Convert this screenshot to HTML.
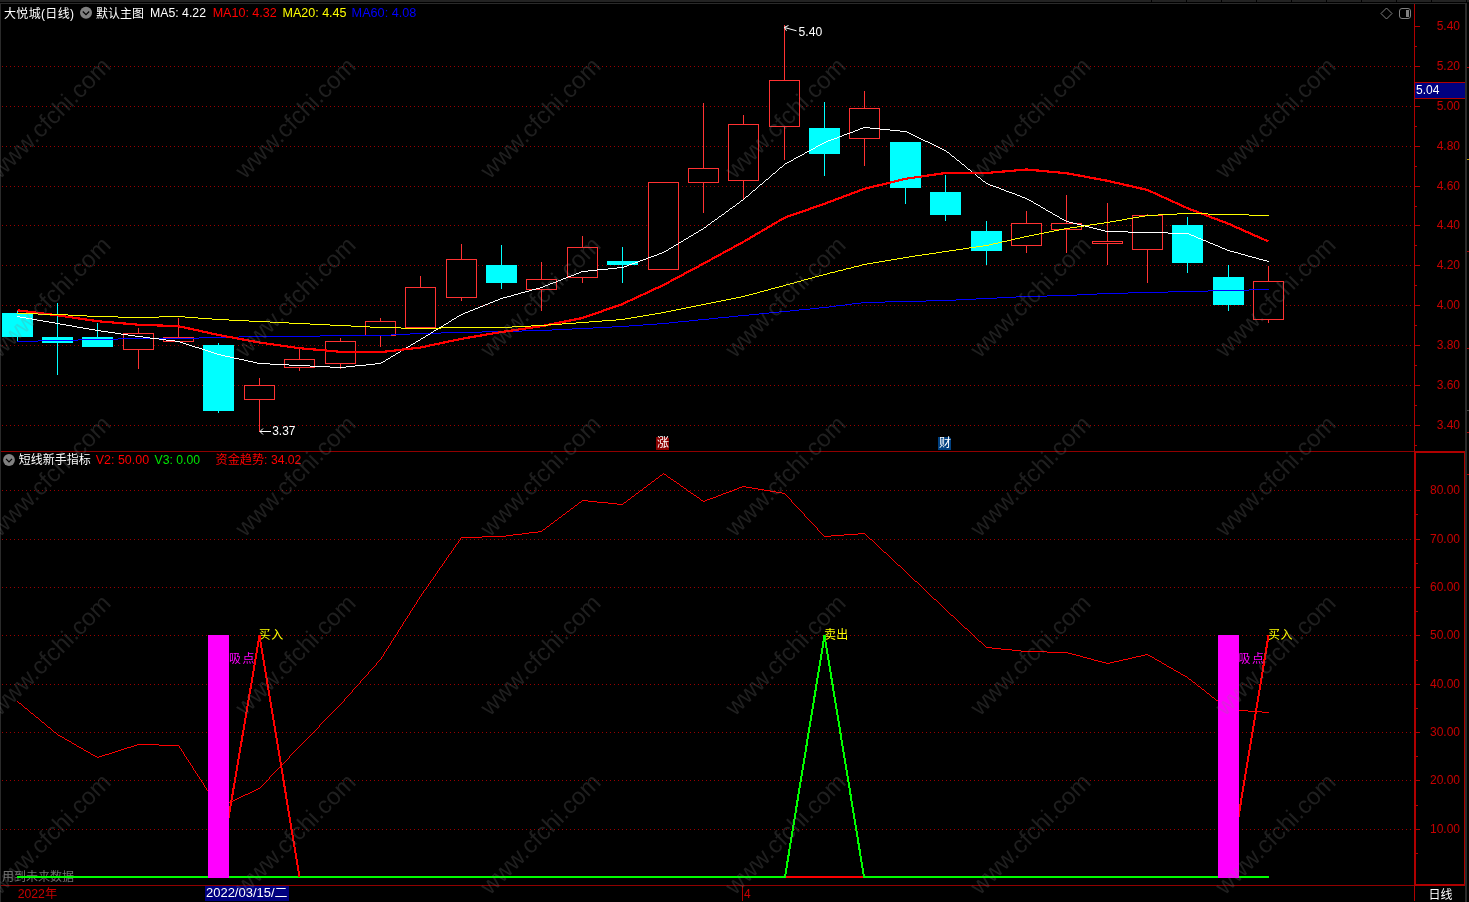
<!DOCTYPE html>
<html lang="zh"><head><meta charset="utf-8"><title>大悦城(日线)</title>
<style>html,body{margin:0;padding:0;background:#000;overflow:hidden}svg{display:block}text{font-family:"Liberation Sans","Noto Sans CJK SC",sans-serif;font-size:12px}.wm text{font-size:24px;fill:#808080;fill-opacity:.24}</style></head><body>
<svg width="1469" height="902" viewBox="0 0 1469 902">
<rect width="1469" height="902" fill="#000"/>
<g shape-rendering="crispEdges">
<rect x="0" y="0" width="1466" height="2" fill="#222"/>
<rect x="1151" y="0" width="1" height="2" fill="#000"/>
<rect x="1186" y="0" width="1" height="2" fill="#000"/>
<rect x="1221" y="0" width="1" height="2" fill="#000"/>
<rect x="1256" y="0" width="1" height="2" fill="#000"/>
<rect x="1291" y="0" width="1" height="2" fill="#000"/>
<rect x="1326" y="0" width="1" height="2" fill="#000"/>
<rect x="1361" y="0" width="1" height="2" fill="#000"/>
<rect x="1396" y="0" width="1" height="2" fill="#000"/>
<rect x="1431" y="0" width="1" height="2" fill="#000"/>
<rect x="0" y="3" width="1467" height="1" fill="#2a2a2a"/>
<rect x="0" y="3" width="1" height="899" fill="#2a2a2a"/>
<rect x="1465" y="3" width="2" height="899" fill="#2a2a2a"/>
<rect x="1467" y="0" width="2" height="2" fill="#222"/>
<rect x="1467" y="67" width="2" height="1" fill="#b00000"/>
<rect x="1467" y="251" width="2" height="1" fill="#b00000"/>
<rect x="1467" y="348" width="2" height="1" fill="#b00000"/>
<rect x="1467" y="432" width="2" height="1" fill="#b00000"/>
<rect x="1467" y="474" width="2" height="1" fill="#b00000"/>
<rect x="1467" y="159" width="2" height="1" fill="#c0a000"/>
<rect x="1467" y="410" width="2" height="1" fill="#444"/>
</g>
<defs><pattern id="dot" x="2" y="0" width="4" height="1" patternUnits="userSpaceOnUse"><rect x="0" y="0" width="1" height="1" fill="#9a0000"/></pattern></defs>
<g shape-rendering="crispEdges">
<rect x="2" y="66" width="1409" height="1" fill="url(#dot)"/>
<rect x="2" y="106" width="1409" height="1" fill="url(#dot)"/>
<rect x="2" y="146" width="1409" height="1" fill="url(#dot)"/>
<rect x="2" y="186" width="1409" height="1" fill="url(#dot)"/>
<rect x="2" y="225" width="1409" height="1" fill="url(#dot)"/>
<rect x="2" y="265" width="1409" height="1" fill="url(#dot)"/>
<rect x="2" y="305" width="1409" height="1" fill="url(#dot)"/>
<rect x="2" y="345" width="1409" height="1" fill="url(#dot)"/>
<rect x="2" y="385" width="1409" height="1" fill="url(#dot)"/>
<rect x="2" y="425" width="1409" height="1" fill="url(#dot)"/>
<rect x="2" y="490" width="1409" height="1" fill="url(#dot)"/>
<rect x="2" y="539" width="1409" height="1" fill="url(#dot)"/>
<rect x="2" y="587" width="1409" height="1" fill="url(#dot)"/>
<rect x="2" y="635" width="1409" height="1" fill="url(#dot)"/>
<rect x="2" y="684" width="1409" height="1" fill="url(#dot)"/>
<rect x="2" y="732" width="1409" height="1" fill="url(#dot)"/>
<rect x="2" y="780" width="1409" height="1" fill="url(#dot)"/>
<rect x="2" y="829" width="1409" height="1" fill="url(#dot)"/>
</g>
<g shape-rendering="crispEdges" fill="#b00000">
<rect x="1414" y="4" width="1" height="447"/>
<rect x="1" y="451" width="1464" height="1" fill="#900000"/>
<rect x="1414" y="451" width="51" height="2"/>
<rect x="1414" y="451" width="2" height="435"/>
<rect x="1464" y="451" width="1" height="435"/>
<rect x="1" y="885" width="1464" height="1" fill="#900000"/>
<rect x="1414" y="884" width="51" height="2"/>
<rect x="1414" y="886" width="1" height="15"/>
<rect x="1415" y="26" width="5" height="1"/>
<rect x="1415" y="66" width="5" height="1"/>
<rect x="1415" y="106" width="5" height="1"/>
<rect x="1415" y="146" width="5" height="1"/>
<rect x="1415" y="186" width="5" height="1"/>
<rect x="1415" y="225" width="5" height="1"/>
<rect x="1415" y="265" width="5" height="1"/>
<rect x="1415" y="305" width="5" height="1"/>
<rect x="1415" y="345" width="5" height="1"/>
<rect x="1415" y="385" width="5" height="1"/>
<rect x="1415" y="425" width="5" height="1"/>
<rect x="1415" y="46" width="2" height="1"/>
<rect x="1415" y="86" width="2" height="1"/>
<rect x="1415" y="126" width="2" height="1"/>
<rect x="1415" y="166" width="2" height="1"/>
<rect x="1415" y="206" width="2" height="1"/>
<rect x="1415" y="245" width="2" height="1"/>
<rect x="1415" y="285" width="2" height="1"/>
<rect x="1415" y="325" width="2" height="1"/>
<rect x="1415" y="365" width="2" height="1"/>
<rect x="1415" y="405" width="2" height="1"/>
<rect x="1415" y="445" width="2" height="1"/>
<rect x="1416" y="490" width="4" height="1"/>
<rect x="1416" y="539" width="4" height="1"/>
<rect x="1416" y="587" width="4" height="1"/>
<rect x="1416" y="635" width="4" height="1"/>
<rect x="1416" y="684" width="4" height="1"/>
<rect x="1416" y="732" width="4" height="1"/>
<rect x="1416" y="780" width="4" height="1"/>
<rect x="1416" y="829" width="4" height="1"/>
<rect x="1416" y="514" width="2" height="1"/>
<rect x="1416" y="563" width="2" height="1"/>
<rect x="1416" y="611" width="2" height="1"/>
<rect x="1416" y="660" width="2" height="1"/>
<rect x="1416" y="708" width="2" height="1"/>
<rect x="1416" y="756" width="2" height="1"/>
<rect x="1416" y="805" width="2" height="1"/>
<rect x="1416" y="853" width="2" height="1"/>
</g>
<g fill="#c80000" text-anchor="end">
<text x="1460" y="30">5.40</text>
<text x="1460" y="70">5.20</text>
<text x="1460" y="150">4.80</text>
<text x="1460" y="190">4.60</text>
<text x="1460" y="229">4.40</text>
<text x="1460" y="269">4.20</text>
<text x="1460" y="309">4.00</text>
<text x="1460" y="349">3.80</text>
<text x="1460" y="389">3.60</text>
<text x="1460" y="429">3.40</text>
<text x="1460" y="494">80.00</text>
<text x="1460" y="543">70.00</text>
<text x="1460" y="591">60.00</text>
<text x="1460" y="639">50.00</text>
<text x="1460" y="688">40.00</text>
<text x="1460" y="736">30.00</text>
<text x="1460" y="784">20.00</text>
<text x="1460" y="833">10.00</text>
</g>
<text x="1460" y="110" fill="#c80000" text-anchor="end">5.00</text>
<g shape-rendering="crispEdges"><rect x="1415" y="82" width="50" height="17" fill="#b00000"/><rect x="1415" y="83" width="50" height="15" fill="#000080"/></g>
<text x="1416" y="94" fill="#fff">5.04</text>
<g shape-rendering="crispEdges">
<rect x="17" y="310" width="1" height="32" fill="#00ffff"/>
<rect x="2" y="313" width="31" height="24" fill="#00ffff"/>
<rect x="57" y="303" width="1" height="72" fill="#00ffff"/>
<rect x="42" y="337" width="31" height="6" fill="#00ffff"/>
<rect x="97" y="323" width="1" height="24" fill="#00ffff"/>
<rect x="82" y="337" width="31" height="10" fill="#00ffff"/>
<rect x="138" y="328" width="1" height="5" fill="#ff3232"/>
<rect x="138" y="350" width="1" height="19" fill="#ff3232"/>
<rect x="123.5" y="333.5" width="30" height="16" fill="#000" stroke="#ff3232" stroke-width="1"/>
<rect x="178" y="318" width="1" height="19" fill="#ff3232"/>
<rect x="163.5" y="337.5" width="30" height="4" fill="#000" stroke="#ff3232" stroke-width="1"/>
<rect x="218" y="343" width="1" height="70" fill="#00ffff"/>
<rect x="203" y="345" width="31" height="66" fill="#00ffff"/>
<rect x="259" y="378" width="1" height="7" fill="#ff3232"/>
<rect x="259" y="400" width="1" height="32" fill="#ff3232"/>
<rect x="244.5" y="385.5" width="30" height="14" fill="#000" stroke="#ff3232" stroke-width="1"/>
<rect x="299" y="349" width="1" height="10" fill="#ff3232"/>
<rect x="299" y="368" width="1" height="3" fill="#ff3232"/>
<rect x="284.5" y="359.5" width="30" height="8" fill="#000" stroke="#ff3232" stroke-width="1"/>
<rect x="340" y="338" width="1" height="3" fill="#ff3232"/>
<rect x="340" y="364" width="1" height="5" fill="#ff3232"/>
<rect x="325.5" y="341.5" width="30" height="22" fill="#000" stroke="#ff3232" stroke-width="1"/>
<rect x="380" y="318" width="1" height="3" fill="#ff3232"/>
<rect x="380" y="336" width="1" height="11" fill="#ff3232"/>
<rect x="365.5" y="321.5" width="30" height="14" fill="#000" stroke="#ff3232" stroke-width="1"/>
<rect x="420" y="276" width="1" height="11" fill="#ff3232"/>
<rect x="405.5" y="287.5" width="30" height="40" fill="#000" stroke="#ff3232" stroke-width="1"/>
<rect x="461" y="244" width="1" height="15" fill="#ff3232"/>
<rect x="461" y="298" width="1" height="3" fill="#ff3232"/>
<rect x="446.5" y="259.5" width="30" height="38" fill="#000" stroke="#ff3232" stroke-width="1"/>
<rect x="501" y="245" width="1" height="44" fill="#00ffff"/>
<rect x="486" y="265" width="31" height="18" fill="#00ffff"/>
<rect x="541" y="262" width="1" height="17" fill="#ff3232"/>
<rect x="541" y="290" width="1" height="21" fill="#ff3232"/>
<rect x="526.5" y="279.5" width="30" height="10" fill="#000" stroke="#ff3232" stroke-width="1"/>
<rect x="582" y="236" width="1" height="11" fill="#ff3232"/>
<rect x="582" y="278" width="1" height="5" fill="#ff3232"/>
<rect x="567.5" y="247.5" width="30" height="30" fill="#000" stroke="#ff3232" stroke-width="1"/>
<rect x="622" y="247" width="1" height="36" fill="#00ffff"/>
<rect x="607" y="261" width="31" height="4" fill="#00ffff"/>
<rect x="648.5" y="182.5" width="30" height="87" fill="#000" stroke="#ff3232" stroke-width="1"/>
<rect x="703" y="103" width="1" height="65" fill="#ff3232"/>
<rect x="703" y="183" width="1" height="30" fill="#ff3232"/>
<rect x="688.5" y="168.5" width="30" height="14" fill="#000" stroke="#ff3232" stroke-width="1"/>
<rect x="743" y="115" width="1" height="9" fill="#ff3232"/>
<rect x="743" y="181" width="1" height="19" fill="#ff3232"/>
<rect x="728.5" y="124.5" width="30" height="56" fill="#000" stroke="#ff3232" stroke-width="1"/>
<rect x="784" y="25" width="1" height="55" fill="#ff3232"/>
<rect x="784" y="127" width="1" height="33" fill="#ff3232"/>
<rect x="769.5" y="80.5" width="30" height="46" fill="#000" stroke="#ff3232" stroke-width="1"/>
<rect x="824" y="102" width="1" height="74" fill="#00ffff"/>
<rect x="809" y="128" width="31" height="26" fill="#00ffff"/>
<rect x="864" y="91" width="1" height="17" fill="#ff3232"/>
<rect x="864" y="139" width="1" height="27" fill="#ff3232"/>
<rect x="849.5" y="108.5" width="30" height="30" fill="#000" stroke="#ff3232" stroke-width="1"/>
<rect x="905" y="142" width="1" height="62" fill="#00ffff"/>
<rect x="890" y="142" width="31" height="46" fill="#00ffff"/>
<rect x="945" y="175" width="1" height="46" fill="#00ffff"/>
<rect x="930" y="192" width="31" height="23" fill="#00ffff"/>
<rect x="986" y="221" width="1" height="44" fill="#00ffff"/>
<rect x="971" y="231" width="31" height="20" fill="#00ffff"/>
<rect x="1026" y="211" width="1" height="12" fill="#ff3232"/>
<rect x="1026" y="246" width="1" height="7" fill="#ff3232"/>
<rect x="1011.5" y="223.5" width="30" height="22" fill="#000" stroke="#ff3232" stroke-width="1"/>
<rect x="1066" y="195" width="1" height="28" fill="#ff3232"/>
<rect x="1066" y="230" width="1" height="23" fill="#ff3232"/>
<rect x="1051.5" y="223.5" width="30" height="6" fill="#000" stroke="#ff3232" stroke-width="1"/>
<rect x="1107" y="203" width="1" height="38" fill="#ff3232"/>
<rect x="1107" y="244" width="1" height="21" fill="#ff3232"/>
<rect x="1092.5" y="241.5" width="30" height="2" fill="#000" stroke="#ff3232" stroke-width="1"/>
<rect x="1147" y="214" width="1" height="1" fill="#ff3232"/>
<rect x="1147" y="250" width="1" height="33" fill="#ff3232"/>
<rect x="1132.5" y="215.5" width="30" height="34" fill="#000" stroke="#ff3232" stroke-width="1"/>
<rect x="1187" y="217" width="1" height="56" fill="#00ffff"/>
<rect x="1172" y="225" width="31" height="38" fill="#00ffff"/>
<rect x="1228" y="265" width="1" height="46" fill="#00ffff"/>
<rect x="1213" y="277" width="31" height="28" fill="#00ffff"/>
<rect x="1268" y="266" width="1" height="15" fill="#ff3232"/>
<rect x="1268" y="320" width="1" height="3" fill="#ff3232"/>
<rect x="1253.5" y="281.5" width="30" height="38" fill="#000" stroke="#ff3232" stroke-width="1"/>
</g>
<path d="M17 341.5h21M38 340.5h19M57 340.5h21M78 339.5h19M97 339.5h21M118 338.5h20M138 338.5h40M178 338.5h21M199 337.5h19M218 337.5h21M239 336.5h20M259 336.5h40M299 336.5h21M320 335.5h20M340 335.5h40M380 335.5h11M391 334.5h19M410 333.5h10M420 333.5h21M441 332.5h20M461 332.5h21M482 331.5h19M501 331.5h21M522 330.5h19M541 330.5h11M552 329.5h20M572 328.5h10M582 328.5h11M593 327.5h19M612 326.5h10M622 326.5h7M629 325.5h14M643 324.5h14M657 323.5h6M663 323.5h6M669 322.5h9M678 321.5h11M689 320.5h9M698 319.5h5M703 319.5h6M709 318.5h9M718 317.5h11M729 316.5h9M738 315.5h5M743 315.5h6M749 314.5h10M759 313.5h10M769 312.5h10M779 311.5h5M784 311.5h6M790 310.5h9M799 309.5h11M810 308.5h9M819 307.5h5M824 307.5h5M829 306.5h7M836 305.5h9M845 304.5h7M852 303.5h9M861 302.5h3M864 302.5h21M885 301.5h20M905 301.5h21M926 300.5h19M945 300.5h11M956 299.5h20M976 298.5h10M986 298.5h11M997 297.5h19M1016 296.5h10M1026 296.5h21M1047 295.5h19M1066 295.5h11M1077 294.5h20M1097 293.5h10M1107 293.5h21M1128 292.5h19M1147 292.5h21M1168 291.5h19M1187 291.5h21M1208 290.5h20M1228 290.5h21M1249 289.5h19M1268 289.5h1" fill="none" stroke="#0000ff" stroke-width="1" shape-rendering="crispEdges"/>
<path d="M17 316.5h3M20 317.5h6M26 318.5h6M32 319.5h5M37 320.5h6M43 321.5h6M49 322.5h6M55 323.5h2M57 323.5h3M60 324.5h6M66 325.5h6M72 326.5h5M77 327.5h6M83 328.5h6M89 329.5h6M95 330.5h2M97 330.5h4M101 331.5h7M108 332.5h7M115 333.5h6M121 334.5h7M128 335.5h7M135 336.5h3M138 336.5h5M143 337.5h7M150 338.5h9M159 339.5h7M166 340.5h9M175 341.5h3M178 341.5h2M180 342.5h3M183 343.5h3M186 344.5h3M189 345.5h3M192 346.5h3M195 347.5h4M199 348.5h3M202 349.5h3M205 350.5h3M208 351.5h3M211 352.5h3M214 353.5h3M217 354.5h1M218 354.5h3M221 355.5h4M225 356.5h5M230 357.5h4M234 358.5h5M239 359.5h5M244 360.5h4M248 361.5h5M253 362.5h4M257 363.5h2M259 363.5h11M270 364.5h19M289 365.5h10M299 365.5h11M310 366.5h20M330 367.5h10M340 367.5h6M346 366.5h9M355 365.5h11M366 364.5h9M375 363.5h5M380 363.5h1M381 362.5h2M383 361.5h2M385 360.5h1M386 359.5h2M388 358.5h2M390 357.5h1M391 356.5h2M393 355.5h2M395 354.5h1M396 353.5h2M398 352.5h2M400 351.5h1M401 350.5h2M403 349.5h2M405 348.5h1M406 347.5h2M408 346.5h2M410 345.5h1M411 344.5h2M413 343.5h2M415 342.5h1M416 341.5h2M418 340.5h2M420 339.5h1M421 338.5h2M423 337.5h2M425 336.5h1M426 335.5h2M428 334.5h2M430 333.5h1M431 332.5h2M433 331.5h1M434 330.5h2M436 329.5h2M438 328.5h1M439 327.5h2M441 326.5h2M443 325.5h1M444 324.5h2M446 323.5h2M448 322.5h1M449 321.5h2M451 320.5h1M452 319.5h2M454 318.5h2M456 317.5h1M457 316.5h2M459 315.5h2M461 314.5h2M463 313.5h2M465 312.5h3M468 311.5h2M470 310.5h3M473 309.5h2M475 308.5h3M478 307.5h2M480 306.5h3M483 305.5h2M485 304.5h3M488 303.5h2M490 302.5h3M493 301.5h2M495 300.5h3M498 299.5h2M500 298.5h1M501 298.5h2M503 297.5h4M507 296.5h4M511 295.5h3M514 294.5h4M518 293.5h3M521 292.5h4M525 291.5h4M529 290.5h3M532 289.5h4M536 288.5h4M540 287.5h1M541 287.5h2M543 286.5h2M545 285.5h3M548 284.5h2M550 283.5h3M553 282.5h3M556 281.5h2M558 280.5h3M561 279.5h2M563 278.5h3M566 277.5h2M568 276.5h3M571 275.5h3M574 274.5h2M576 273.5h3M579 272.5h2M581 271.5h1M582 271.5h6M588 270.5h9M597 269.5h11M608 268.5h9M617 267.5h5M622 267.5h2M624 266.5h3M627 265.5h2M629 264.5h3M632 263.5h3M635 262.5h3M638 261.5h2M640 260.5h3M643 259.5h3M646 258.5h2M648 257.5h3M651 256.5h3M654 255.5h3M657 254.5h2M659 253.5h3M662 252.5h1M663 252.5h1M664 251.5h2M666 250.5h2M668 249.5h1M669 248.5h2M671 247.5h2M673 246.5h1M674 245.5h2M676 244.5h2M678 243.5h1M679 242.5h2M681 241.5h2M683 240.5h1M684 239.5h2M686 238.5h2M688 237.5h1M689 236.5h2M691 235.5h2M693 234.5h1M694 233.5h2M696 232.5h2M698 231.5h1M699 230.5h2M701 229.5h2M703 228.5h1M704 227.5h2M706 226.5h1M707 225.5h1M708 224.5h2M710 223.5h1M711 222.5h1M712 221.5h2M714 220.5h1M715 219.5h2M717 218.5h1M718 217.5h1M719 216.5h2M721 215.5h1M722 214.5h2M724 213.5h1M725 212.5h1M726 211.5h2M728 210.5h1M729 209.5h1M730 208.5h2M732 207.5h1M733 206.5h2M735 205.5h1M736 204.5h1M737 203.5h2M739 202.5h1M740 201.5h1M741 200.5h2M743 199.5h1M744 198.5h1M745 197.5h1M746 196.5h2M748 195.5h1M749 194.5h1M750 193.5h1M751 192.5h1M752 191.5h1M753 190.5h2M755 189.5h1M756 188.5h1M757 187.5h1M758 186.5h1M759 185.5h1M760 184.5h2M762 183.5h1M763 182.5h1M764 181.5h1M765 180.5h1M766 179.5h2M768 178.5h1M769 177.5h1M770 176.5h1M771 175.5h1M772 174.5h1M773 173.5h2M775 172.5h1M776 171.5h1M777 170.5h1M778 169.5h1M779 168.5h1M780 167.5h2M782 166.5h1M783 165.5h1M784 164.5h1M785 163.5h2M787 162.5h2M789 161.5h2M791 160.5h2M793 159.5h1M794 158.5h2M796 157.5h2M798 156.5h2M800 155.5h2M802 154.5h2M804 153.5h1M805 152.5h2M807 151.5h2M809 150.5h2M811 149.5h2M813 148.5h2M815 147.5h1M816 146.5h2M818 145.5h2M820 144.5h2M822 143.5h2M824 142.5h2M826 141.5h2M828 140.5h3M831 139.5h3M834 138.5h3M837 137.5h2M839 136.5h3M842 135.5h2M844 134.5h3M847 133.5h3M850 132.5h3M853 131.5h2M855 130.5h3M858 129.5h2M860 128.5h3M863 127.5h1M864 127.5h6M870 128.5h10M880 129.5h10M890 130.5h10M900 131.5h5M905 131.5h2M907 132.5h2M909 133.5h2M911 134.5h2M913 135.5h2M915 136.5h2M917 137.5h2M919 138.5h2M921 139.5h2M923 140.5h2M925 141.5h3M928 142.5h2M930 143.5h2M932 144.5h2M934 145.5h2M936 146.5h2M938 147.5h2M940 148.5h2M942 149.5h2M944 150.5h1M945 150.5h1M946 151.5h1M947 152.5h2M949 153.5h1M950 154.5h1M951 155.5h1M952 156.5h2M954 157.5h1M955 158.5h1M956 159.5h1M957 160.5h2M959 161.5h1M960 162.5h1M961 163.5h1M962 164.5h2M964 165.5h1M965 166.5h1M966 167.5h1M967 168.5h1M968 169.5h2M970 170.5h1M971 171.5h1M972 172.5h1M973 173.5h2M975 174.5h1M976 175.5h1M977 176.5h1M978 177.5h2M980 178.5h1M981 179.5h1M982 180.5h1M983 181.5h2M985 182.5h1M986 183.5h2M988 184.5h2M990 185.5h3M993 186.5h3M996 187.5h3M999 188.5h2M1001 189.5h3M1004 190.5h2M1006 191.5h3M1009 192.5h3M1012 193.5h3M1015 194.5h2M1017 195.5h3M1020 196.5h2M1022 197.5h3M1025 198.5h1M1026 198.5h1M1027 199.5h2M1029 200.5h2M1031 201.5h2M1033 202.5h1M1034 203.5h2M1036 204.5h2M1038 205.5h2M1040 206.5h1M1041 207.5h2M1043 208.5h2M1045 209.5h1M1046 210.5h2M1048 211.5h2M1050 212.5h2M1052 213.5h1M1053 214.5h2M1055 215.5h2M1057 216.5h2M1059 217.5h1M1060 218.5h2M1062 219.5h2M1064 220.5h2M1066 221.5h3M1069 222.5h4M1073 223.5h4M1077 224.5h4M1081 225.5h4M1085 226.5h4M1089 227.5h4M1093 228.5h4M1097 229.5h4M1101 230.5h4M1105 231.5h2M1107 231.5h21M1128 232.5h19M1147 232.5h21M1168 233.5h19M1187 233.5h2M1189 234.5h2M1191 235.5h3M1194 236.5h2M1196 237.5h2M1198 238.5h3M1201 239.5h2M1203 240.5h3M1206 241.5h2M1208 242.5h2M1210 243.5h3M1213 244.5h2M1215 245.5h3M1218 246.5h2M1220 247.5h2M1222 248.5h3M1225 249.5h2M1227 250.5h1M1228 250.5h2M1230 251.5h4M1234 252.5h4M1238 253.5h3M1241 254.5h4M1245 255.5h3M1248 256.5h4M1252 257.5h4M1256 258.5h3M1259 259.5h4M1263 260.5h4M1267 261.5h1M1268 261.5h1" fill="none" stroke="#ffffff" stroke-width="1" shape-rendering="crispEdges"/>
<polyline points="17.5,310.3 57.5,315.3 97.5,321.2 138.5,324.7 178.5,326.2 218.5,335.0 259.5,342.5 299.5,348.2 340.5,351.8 380.5,352.2 420.5,347.5 461.5,338.8 501.5,332.0 541.5,326.2 582.5,318.0 622.5,304.0 663.5,285.0 703.5,263.6 743.5,241.8 784.5,217.7 824.5,203.8 864.5,188.8 905.5,178.8 945.5,173.0 986.5,173.0 1026.5,169.5 1066.5,173.2 1107.5,180.8 1147.5,190.0 1187.5,208.2 1228.5,223.8 1268.5,241.5" fill="none" stroke="#ff0000" stroke-width="2.2" shape-rendering="crispEdges" stroke-linejoin="round"/>
<path d="M17 313.5h21M38 314.5h19M57 314.5h11M68 315.5h19M87 316.5h10M97 316.5h21M118 317.5h20M138 317.5h21M159 316.5h19M178 316.5h7M185 317.5h13M198 318.5h14M212 319.5h6M218 319.5h11M229 320.5h20M249 321.5h10M259 321.5h11M270 322.5h19M289 323.5h10M299 323.5h11M310 324.5h20M330 325.5h10M340 325.5h11M351 326.5h19M370 327.5h10M380 327.5h21M401 328.5h19M420 328.5h21M441 327.5h20M461 327.5h40M501 327.5h11M512 326.5h19M531 325.5h10M541 325.5h7M548 324.5h14M562 323.5h14M576 322.5h6M582 322.5h7M589 321.5h13M602 320.5h14M616 319.5h6M622 319.5h3M625 318.5h6M631 317.5h6M637 316.5h6M643 315.5h6M649 314.5h6M655 313.5h6M661 312.5h2M663 312.5h3M666 311.5h5M671 310.5h5M676 309.5h5M681 308.5h5M686 307.5h5M691 306.5h5M696 305.5h5M701 304.5h2M703 304.5h3M706 303.5h5M711 302.5h5M716 301.5h5M721 300.5h5M726 299.5h5M731 298.5h5M736 297.5h5M741 296.5h2M743 296.5h2M745 295.5h4M749 294.5h4M753 293.5h4M757 292.5h3M760 291.5h4M764 290.5h4M768 289.5h3M771 288.5h4M775 287.5h4M779 286.5h4M783 285.5h1M784 285.5h2M786 284.5h4M790 283.5h4M794 282.5h3M797 281.5h4M801 280.5h3M804 279.5h4M808 278.5h4M812 277.5h3M815 276.5h4M819 275.5h4M823 274.5h1M824 274.5h3M827 273.5h3M830 272.5h5M835 271.5h3M838 270.5h5M843 269.5h3M846 268.5h5M851 267.5h3M854 266.5h5M859 265.5h3M862 264.5h2M864 264.5h3M867 263.5h6M873 262.5h6M879 261.5h6M885 260.5h6M891 259.5h6M897 258.5h6M903 257.5h2M905 257.5h4M909 256.5h6M915 255.5h7M922 254.5h7M929 253.5h7M936 252.5h6M942 251.5h3M945 251.5h4M949 250.5h7M956 249.5h7M963 248.5h6M969 247.5h7M976 246.5h7M983 245.5h3M986 245.5h3M989 244.5h4M993 243.5h5M998 242.5h4M1002 241.5h5M1007 240.5h4M1011 239.5h4M1015 238.5h5M1020 237.5h4M1024 236.5h2M1026 236.5h3M1029 235.5h5M1034 234.5h5M1039 233.5h5M1044 232.5h5M1049 231.5h5M1054 230.5h5M1059 229.5h5M1064 228.5h2M1066 228.5h4M1070 227.5h7M1077 226.5h7M1084 225.5h6M1090 224.5h7M1097 223.5h7M1104 222.5h3M1107 222.5h3M1110 221.5h6M1116 220.5h6M1122 219.5h5M1127 218.5h6M1133 217.5h6M1139 216.5h6M1145 215.5h2M1147 215.5h11M1158 214.5h19M1177 213.5h10M1187 213.5h21M1208 214.5h20M1228 214.5h21M1249 215.5h19M1268 215.5h1" fill="none" stroke="#ffff00" stroke-width="1" shape-rendering="crispEdges"/>
<g stroke="#fff" stroke-width="1" fill="none"><path d="M784.5 27.5 L796.5 30.8 M784.3 27.3 L788.5 25.5 M784.5 27.5 L786.5 30.8"/><path d="M260 431.5 H271 M260 431.5 L263 428.5 M260 431.5 L263 434.5"/></g>
<text x="798.6" y="36" fill="#fff" textLength="23.7" lengthAdjust="spacingAndGlyphs">5.40</text>
<text x="272.2" y="435" fill="#fff" textLength="23.2" lengthAdjust="spacingAndGlyphs">3.37</text>
<path d="M656 437 H667 L669 439 V450 H656 Z" fill="#8b0000" shape-rendering="crispEdges"/>
<text x="657" y="447.3" fill="#fff" font-size="11">涨</text>
<path d="M938 437 H949 L951 439 V450 H938 Z" fill="#004080" shape-rendering="crispEdges"/>
<text x="939" y="447.3" fill="#fff" font-size="11">财</text>
<text x="4" y="17.5" fill="#fff" textLength="70" lengthAdjust="spacing">大悦城(日线)</text>
<circle cx="86" cy="12.8" r="6" fill="#808080"/><path d="M82.8 11.5 L86 14.7 L89.2 11.5" fill="none" stroke="#000" stroke-width="1.2"/>
<text x="96" y="17.5" fill="#fff">默认主图</text>
<text x="150" y="17" fill="#fff" textLength="56" lengthAdjust="spacingAndGlyphs">MA5: 4.22</text>
<text x="212.7" y="17" fill="#ff0000" textLength="64" lengthAdjust="spacingAndGlyphs">MA10: 4.32</text>
<text x="282.5" y="17" fill="#ffff00" textLength="64" lengthAdjust="spacingAndGlyphs">MA20: 4.45</text>
<text x="351.6" y="17" fill="#0000ff" textLength="64.7" lengthAdjust="spacingAndGlyphs">MA60: 4.08</text>
<path d="M1386.5 8 L1392 13.5 L1386.5 19 L1381 13.5 Z" fill="none" stroke="#808080" stroke-width="1"/>
<rect x="1399.5" y="8.5" width="11" height="10" rx="2.5" fill="none" stroke="#808080" stroke-width="1"/>
<rect x="1406" y="10" width="3" height="7" fill="#808080"/>
<path d="M17 701.5h1M18 702.5h1M19 703.5h2M21 704.5h1M22 705.5h1M23 706.5h1M24 707.5h1M25 708.5h2M27 709.5h1M28 710.5h1M29 711.5h1M30 712.5h1M31 713.5h2M33 714.5h1M34 715.5h1M35 716.5h1M36 717.5h2M38 718.5h1M39 719.5h1M40 720.5h1M41 721.5h1M42 722.5h2M44 723.5h1M45 724.5h1M46 725.5h1M47 726.5h1M48 727.5h2M50 728.5h1M51 729.5h1M52 730.5h1M53 731.5h1M54 732.5h2M56 733.5h1M57 734.5h1M58 735.5h2M60 736.5h2M62 737.5h2M64 738.5h1M65 739.5h2M67 740.5h2M69 741.5h2M71 742.5h1M72 743.5h2M74 744.5h2M76 745.5h1M77 746.5h2M79 747.5h2M81 748.5h2M83 749.5h1M84 750.5h2M86 751.5h2M88 752.5h2M90 753.5h1M91 754.5h2M93 755.5h2M95 756.5h2M97 757.5h2M99 756.5h3M102 755.5h3M105 754.5h4M109 753.5h3M112 752.5h3M115 751.5h3M118 750.5h3M121 749.5h3M124 748.5h3M127 747.5h4M131 746.5h3M134 745.5h3M137 744.5h1M138 744.5h21M159 745.5h19M178.5 745v1M179.5 746v2M180.5 748v1M181.5 749v2M182.5 751v1M183.5 752v2M184.5 754v2M185.5 756v1M186.5 757v2M187.5 759v1M188.5 760v2M189.5 762v1M190.5 763v2M191.5 765v1M192.5 766v2M193.5 768v2M194.5 770v1M195.5 771v2M196.5 773v1M197.5 774v2M198.5 776v1M199.5 777v2M200.5 779v1M201.5 780v2M202.5 782v1M203.5 783v2M204.5 785v2M205.5 787v1M206.5 788v2M207.5 790v1M208.5 791v2M209.5 793v1M210.5 794v2M211.5 796v1M212.5 797v2M213.5 799v2M214.5 801v1M215.5 802v2M216.5 804v1M217.5 805v2M218 807.5h2M220 806.5h2M222 805.5h2M224 804.5h2M226 803.5h2M228 802.5h2M230 801.5h3M233 800.5h2M235 799.5h2M237 798.5h2M239 797.5h2M241 796.5h2M243 795.5h2M245 794.5h3M248 793.5h2M250 792.5h2M252 791.5h2M254 790.5h2M256 789.5h2M258 788.5h1M259.5 789v-1M260.5 788v-1M261.5 787v-1M262.5 786v-1M263.5 785v-1M264.5 784v-1M265.5 783v-1M266.5 782v-1M267.5 781v-1M268.5 780v-1M269.5 779v-2M270.5 777v-1M271.5 776v-1M272.5 775v-1M273.5 774v-1M274.5 773v-1M275.5 772v-1M276.5 771v-1M277.5 770v-1M278.5 769v-1M279.5 768v-1M280.5 767v-1M281.5 766v-1M282.5 765v-1M283.5 764v-1M284.5 763v-1M285.5 762v-1M286.5 761v-1M287.5 760v-1M288.5 759v-1M289.5 758v-2M290.5 756v-1M291.5 755v-1M292.5 754v-1M293.5 753v-1M294.5 752v-1M295.5 751v-1M296.5 750v-1M297.5 749v-1M298.5 748v-1M299.5 747v-1M300.5 746v-1M301.5 745v-1M302.5 744v-1M303.5 743v-1M304.5 742v-1M305.5 741v-1M306.5 740v-1M307.5 739v-1M308.5 738v-1M309.5 737v-1M310.5 736v-1M311.5 735v-1M312.5 734v-1M313.5 733v-1M314.5 732v-1M315.5 731v-1M316.5 730v-1M317.5 729v-1M318.5 728v-1M319.5 727v-2M320.5 725v-1M321.5 724v-1M322.5 723v-1M323.5 722v-1M324.5 721v-1M325.5 720v-1M326.5 719v-1M327.5 718v-1M328.5 717v-1M329.5 716v-1M330.5 715v-1M331.5 714v-1M332.5 713v-1M333.5 712v-1M334.5 711v-1M335.5 710v-1M336.5 709v-1M337.5 708v-1M338.5 707v-1M339.5 706v-1M340.5 705v-1M341.5 704v-1M342.5 703v-1M343.5 702v-1M344.5 701v-2M345.5 699v-1M346.5 698v-1M347.5 697v-1M348.5 696v-1M349.5 695v-1M350.5 694v-1M351.5 693v-1M352.5 692v-2M353.5 690v-1M354.5 689v-1M355.5 688v-1M356.5 687v-1M357.5 686v-1M358.5 685v-1M359.5 684v-1M360.5 683v-2M361.5 681v-1M362.5 680v-1M363.5 679v-1M364.5 678v-1M365.5 677v-1M366.5 676v-1M367.5 675v-1M368.5 674v-2M369.5 672v-1M370.5 671v-1M371.5 670v-1M372.5 669v-1M373.5 668v-1M374.5 667v-1M375.5 666v-1M376.5 665v-2M377.5 663v-1M378.5 662v-1M379.5 661v-1M380.5 660v-1M381.5 659v-2M382.5 657v-1M383.5 656v-2M384.5 654v-2M385.5 652v-1M386.5 651v-2M387.5 649v-1M388.5 648v-2M389.5 646v-1M390.5 645v-2M391.5 643v-2M392.5 641v-1M393.5 640v-2M394.5 638v-1M395.5 637v-2M396.5 635v-1M397.5 634v-2M398.5 632v-2M399.5 630v-1M400.5 629v-2M401.5 627v-1M402.5 626v-2M403.5 624v-2M404.5 622v-1M405.5 621v-2M406.5 619v-1M407.5 618v-2M408.5 616v-1M409.5 615v-2M410.5 613v-2M411.5 611v-1M412.5 610v-2M413.5 608v-1M414.5 607v-2M415.5 605v-1M416.5 604v-2M417.5 602v-2M418.5 600v-1M419.5 599v-2M420.5 597v-1M421.5 596v-2M422.5 594v-1M423.5 593v-2M424.5 591v-1M425.5 590v-1M426.5 589v-2M427.5 587v-1M428.5 586v-2M429.5 584v-1M430.5 583v-2M431.5 581v-1M432.5 580v-1M433.5 579v-2M434.5 577v-1M435.5 576v-2M436.5 574v-1M437.5 573v-2M438.5 571v-1M439.5 570v-2M440.5 568v-1M441.5 567v-1M442.5 566v-2M443.5 564v-1M444.5 563v-2M445.5 561v-1M446.5 560v-2M447.5 558v-1M448.5 557v-2M449.5 555v-1M450.5 554v-1M451.5 553v-2M452.5 551v-1M453.5 550v-2M454.5 548v-1M455.5 547v-2M456.5 545v-1M457.5 544v-1M458.5 543v-2M459.5 541v-1M460.5 540v-2M461 537.5h21M482 536.5h19M501 536.5h5M506 535.5h7M513 534.5h9M522 533.5h7M529 532.5h9M538 531.5h3M541 531.5h1M542 530.5h1M543 529.5h2M545 528.5h1M546 527.5h1M547 526.5h2M549 525.5h1M550 524.5h1M551 523.5h2M553 522.5h1M554 521.5h1M555 520.5h2M557 519.5h1M558 518.5h1M559 517.5h2M561 516.5h1M562 515.5h1M563 514.5h2M565 513.5h1M566 512.5h1M567 511.5h2M569 510.5h1M570 509.5h1M571 508.5h2M573 507.5h1M574 506.5h1M575 505.5h2M577 504.5h1M578 503.5h1M579 502.5h2M581 501.5h1M582 500.5h6M588 501.5h9M597 502.5h11M608 503.5h9M617 504.5h5M622 504.5h1M623 503.5h1M624 502.5h2M626 501.5h1M627 500.5h1M628 499.5h2M630 498.5h1M631 497.5h1M632 496.5h2M634 495.5h1M635 494.5h1M636 493.5h2M638 492.5h1M639 491.5h1M640 490.5h2M642 489.5h1M643 488.5h1M644 487.5h2M646 486.5h1M647 485.5h1M648 484.5h2M650 483.5h1M651 482.5h1M652 481.5h2M654 480.5h1M655 479.5h1M656 478.5h2M658 477.5h1M659 476.5h1M660 475.5h2M662 474.5h1M663 473.5h1M664 474.5h2M666 475.5h1M667 476.5h1M668 477.5h2M670 478.5h1M671 479.5h2M673 480.5h1M674 481.5h2M676 482.5h1M677 483.5h2M679 484.5h1M680 485.5h1M681 486.5h2M683 487.5h1M684 488.5h2M686 489.5h1M687 490.5h1M688 491.5h2M690 492.5h1M691 493.5h2M693 494.5h1M694 495.5h2M696 496.5h1M697 497.5h2M699 498.5h1M700 499.5h1M701 500.5h2M703 501.5h2M705 500.5h2M707 499.5h3M710 498.5h3M713 497.5h3M716 496.5h2M718 495.5h3M721 494.5h2M723 493.5h3M726 492.5h3M729 491.5h3M732 490.5h2M734 489.5h3M737 488.5h2M739 487.5h3M742 486.5h1M743 486.5h3M746 487.5h6M752 488.5h6M758 489.5h6M764 490.5h6M770 491.5h6M776 492.5h6M782 493.5h2M784.5 493v1M785.5 494v1M786.5 495v1M787.5 496v1M788.5 497v1M789.5 498v1M790.5 499v1M791.5 500v2M792.5 502v1M793.5 503v1M794.5 504v1M795.5 505v1M796.5 506v1M797.5 507v1M798.5 508v1M799.5 509v1M800.5 510v1M801.5 511v1M802.5 512v1M803.5 513v1M804.5 514v2M805.5 516v1M806.5 517v1M807.5 518v1M808.5 519v1M809.5 520v1M810.5 521v1M811.5 522v1M812.5 523v1M813.5 524v1M814.5 525v1M815.5 526v1M816.5 527v1M817.5 528v2M818.5 530v1M819.5 531v1M820.5 532v1M821.5 533v1M822.5 534v1M823.5 535v1M824 536.5h7M831 535.5h13M844 534.5h14M858 533.5h6M864 533.5h1M865 534.5h1M866 535.5h1M867 536.5h1M868 537.5h1M869 538.5h1M870 539.5h2M872 540.5h1M873 541.5h1M874 542.5h1M875 543.5h1M876 544.5h1M877 545.5h1M878 546.5h1M879 547.5h1M880 548.5h1M881 549.5h1M882 550.5h1M883 551.5h1M884 552.5h2M886 553.5h1M887 554.5h1M888 555.5h1M889 556.5h1M890 557.5h1M891 558.5h1M892 559.5h1M893 560.5h1M894 561.5h1M895 562.5h1M896 563.5h1M897 564.5h1M898 565.5h2M900 566.5h1M901 567.5h1M902 568.5h1M903 569.5h1M904 570.5h1M905 571.5h1M906 572.5h1M907 573.5h1M908 574.5h1M909 575.5h1M910 576.5h1M911 577.5h1M912 578.5h1M913 579.5h1M914 580.5h1M915 581.5h2M917 582.5h1M918 583.5h1M919 584.5h1M920 585.5h1M921 586.5h1M922 587.5h1M923 588.5h1M924 589.5h1M925 590.5h1M926 591.5h1M927 592.5h1M928 593.5h1M929 594.5h1M930 595.5h1M931 596.5h1M932 597.5h1M933 598.5h1M934 599.5h2M936 600.5h1M937 601.5h1M938 602.5h1M939 603.5h1M940 604.5h1M941 605.5h1M942 606.5h1M943 607.5h1M944 608.5h1M945 609.5h1M946 610.5h1M947 611.5h1M948 612.5h1M949 613.5h1M950 614.5h1M951 615.5h2M953 616.5h1M954 617.5h1M955 618.5h1M956 619.5h1M957 620.5h1M958 621.5h1M959 622.5h1M960 623.5h1M961 624.5h1M962 625.5h1M963 626.5h1M964 627.5h1M965 628.5h2M967 629.5h1M968 630.5h1M969 631.5h1M970 632.5h1M971 633.5h1M972 634.5h1M973 635.5h1M974 636.5h1M975 637.5h1M976 638.5h1M977 639.5h1M978 640.5h1M979 641.5h2M981 642.5h1M982 643.5h1M983 644.5h1M984 645.5h1M985 646.5h1M986 647.5h6M992 648.5h9M1001 649.5h11M1012 650.5h9M1021 651.5h5M1026 651.5h21M1047 652.5h19M1066 652.5h2M1068 653.5h4M1072 654.5h4M1076 655.5h4M1080 656.5h3M1083 657.5h4M1087 658.5h4M1091 659.5h3M1094 660.5h4M1098 661.5h4M1102 662.5h4M1106 663.5h1M1107 663.5h3M1110 662.5h4M1114 661.5h5M1119 660.5h4M1123 659.5h5M1128 658.5h4M1132 657.5h4M1136 656.5h5M1141 655.5h4M1145 654.5h2M1147 654.5h1M1148 655.5h2M1150 656.5h2M1152 657.5h2M1154 658.5h1M1155 659.5h2M1157 660.5h2M1159 661.5h2M1161 662.5h1M1162 663.5h2M1164 664.5h2M1166 665.5h1M1167 666.5h2M1169 667.5h2M1171 668.5h2M1173 669.5h1M1174 670.5h2M1176 671.5h2M1178 672.5h2M1180 673.5h1M1181 674.5h2M1183 675.5h2M1185 676.5h2M1187 677.5h1M1188 678.5h1M1189 679.5h2M1191 680.5h1M1192 681.5h1M1193 682.5h2M1195 683.5h1M1196 684.5h1M1197 685.5h1M1198 686.5h2M1200 687.5h1M1201 688.5h1M1202 689.5h2M1204 690.5h1M1205 691.5h1M1206 692.5h1M1207 693.5h2M1209 694.5h1M1210 695.5h1M1211 696.5h1M1212 697.5h2M1214 698.5h1M1215 699.5h1M1216 700.5h2M1218 701.5h1M1219 702.5h1M1220 703.5h1M1221 704.5h2M1223 705.5h1M1224 706.5h1M1225 707.5h2M1227 708.5h1M1228 709.5h7M1235 710.5h13M1248 711.5h14M1262 712.5h6M1268 712.5h1" fill="none" stroke="#ff0000" stroke-width="1" shape-rendering="crispEdges"/>
<text x="228.9" y="663" fill="#ff00ff" textLength="25.5" lengthAdjust="spacing">吸点</text>
<text x="1238.4" y="663" fill="#ff00ff" textLength="25.5" lengthAdjust="spacing">吸点</text>
<text x="258.6" y="638.7" fill="#ffff00" textLength="24.6" lengthAdjust="spacing">买入</text>
<text x="1267.9" y="638.7" fill="#ffff00" textLength="24.6" lengthAdjust="spacing">买入</text>
<text x="824" y="639.2" fill="#ffff00" textLength="24.2" lengthAdjust="spacing">卖出</text>
<g shape-rendering="crispEdges" fill="none" stroke-width="2" stroke-linejoin="miter">
<polyline points="785,877 864,877" stroke="#ff0000"/>
<polyline points="17,877 785,877 824.5,635.5 864,877 1269,877" stroke="#00ff00"/>
<polyline points="218.5,877 259.5,635.5 299.5,877" stroke="#ff0000"/>
<polyline points="1228.5,877 1268.5,635.5" stroke="#ff0000"/>
</g>
<text x="2" y="881.3" fill="#707070">用到未来数据</text>
<rect x="17" y="876" width="60" height="2" fill="#00ff00" shape-rendering="crispEdges"/>
<g shape-rendering="crispEdges" fill="#ff00ff">
<rect x="208" y="635" width="21" height="243"/>
<rect x="1218" y="635" width="21" height="243"/>
</g>
<circle cx="9" cy="460" r="5.9" fill="#808080"/><path d="M6 458.8 L9 461.8 L12 458.8" fill="none" stroke="#000" stroke-width="1.2"/>
<text x="18.7" y="464" fill="#fff">短线新手指标</text>
<text x="95.8" y="464" fill="#ff0000" textLength="53.3" lengthAdjust="spacingAndGlyphs">V2: 50.00</text>
<text x="154.5" y="464" fill="#00e600" textLength="45.5" lengthAdjust="spacingAndGlyphs">V3: 0.00</text>
<text x="215.5" y="464" fill="#ff0000" textLength="85.8" lengthAdjust="spacingAndGlyphs">资金趋势: 34.02</text>
<text x="17.7" y="898" fill="#c80000" textLength="39.5" lengthAdjust="spacingAndGlyphs">2022年</text>
<rect x="205" y="886" width="84" height="15" fill="#000080" shape-rendering="crispEdges"/>
<text x="206" y="897.3" fill="#fff" textLength="81.5" lengthAdjust="spacingAndGlyphs">2022/03/15/二</text>
<rect x="742" y="886" width="1" height="15" fill="#b00000" shape-rendering="crispEdges"/>
<text x="744" y="898.2" fill="#c80000">4</text>
<text x="1428.5" y="898.5" fill="#fff">日线</text>
<g class="wm">
<text transform="translate(-0.1 179.8) rotate(-45)">www.cfchi.com</text>
<text transform="translate(244.9 179.8) rotate(-45)">www.cfchi.com</text>
<text transform="translate(489.9 179.8) rotate(-45)">www.cfchi.com</text>
<text transform="translate(734.9 179.8) rotate(-45)">www.cfchi.com</text>
<text transform="translate(979.9 179.8) rotate(-45)">www.cfchi.com</text>
<text transform="translate(1224.9 179.8) rotate(-45)">www.cfchi.com</text>
<text transform="translate(-0.1 358.8) rotate(-45)">www.cfchi.com</text>
<text transform="translate(244.9 358.8) rotate(-45)">www.cfchi.com</text>
<text transform="translate(489.9 358.8) rotate(-45)">www.cfchi.com</text>
<text transform="translate(734.9 358.8) rotate(-45)">www.cfchi.com</text>
<text transform="translate(979.9 358.8) rotate(-45)">www.cfchi.com</text>
<text transform="translate(1224.9 358.8) rotate(-45)">www.cfchi.com</text>
<text transform="translate(-0.1 537.8) rotate(-45)">www.cfchi.com</text>
<text transform="translate(244.9 537.8) rotate(-45)">www.cfchi.com</text>
<text transform="translate(489.9 537.8) rotate(-45)">www.cfchi.com</text>
<text transform="translate(734.9 537.8) rotate(-45)">www.cfchi.com</text>
<text transform="translate(979.9 537.8) rotate(-45)">www.cfchi.com</text>
<text transform="translate(1224.9 537.8) rotate(-45)">www.cfchi.com</text>
<text transform="translate(-0.1 716.8) rotate(-45)">www.cfchi.com</text>
<text transform="translate(244.9 716.8) rotate(-45)">www.cfchi.com</text>
<text transform="translate(489.9 716.8) rotate(-45)">www.cfchi.com</text>
<text transform="translate(734.9 716.8) rotate(-45)">www.cfchi.com</text>
<text transform="translate(979.9 716.8) rotate(-45)">www.cfchi.com</text>
<text transform="translate(1224.9 716.8) rotate(-45)">www.cfchi.com</text>
<text transform="translate(-0.1 895.8) rotate(-45)">www.cfchi.com</text>
<text transform="translate(244.9 895.8) rotate(-45)">www.cfchi.com</text>
<text transform="translate(489.9 895.8) rotate(-45)">www.cfchi.com</text>
<text transform="translate(734.9 895.8) rotate(-45)">www.cfchi.com</text>
<text transform="translate(979.9 895.8) rotate(-45)">www.cfchi.com</text>
<text transform="translate(1224.9 895.8) rotate(-45)">www.cfchi.com</text>
</g>
</svg></body></html>
